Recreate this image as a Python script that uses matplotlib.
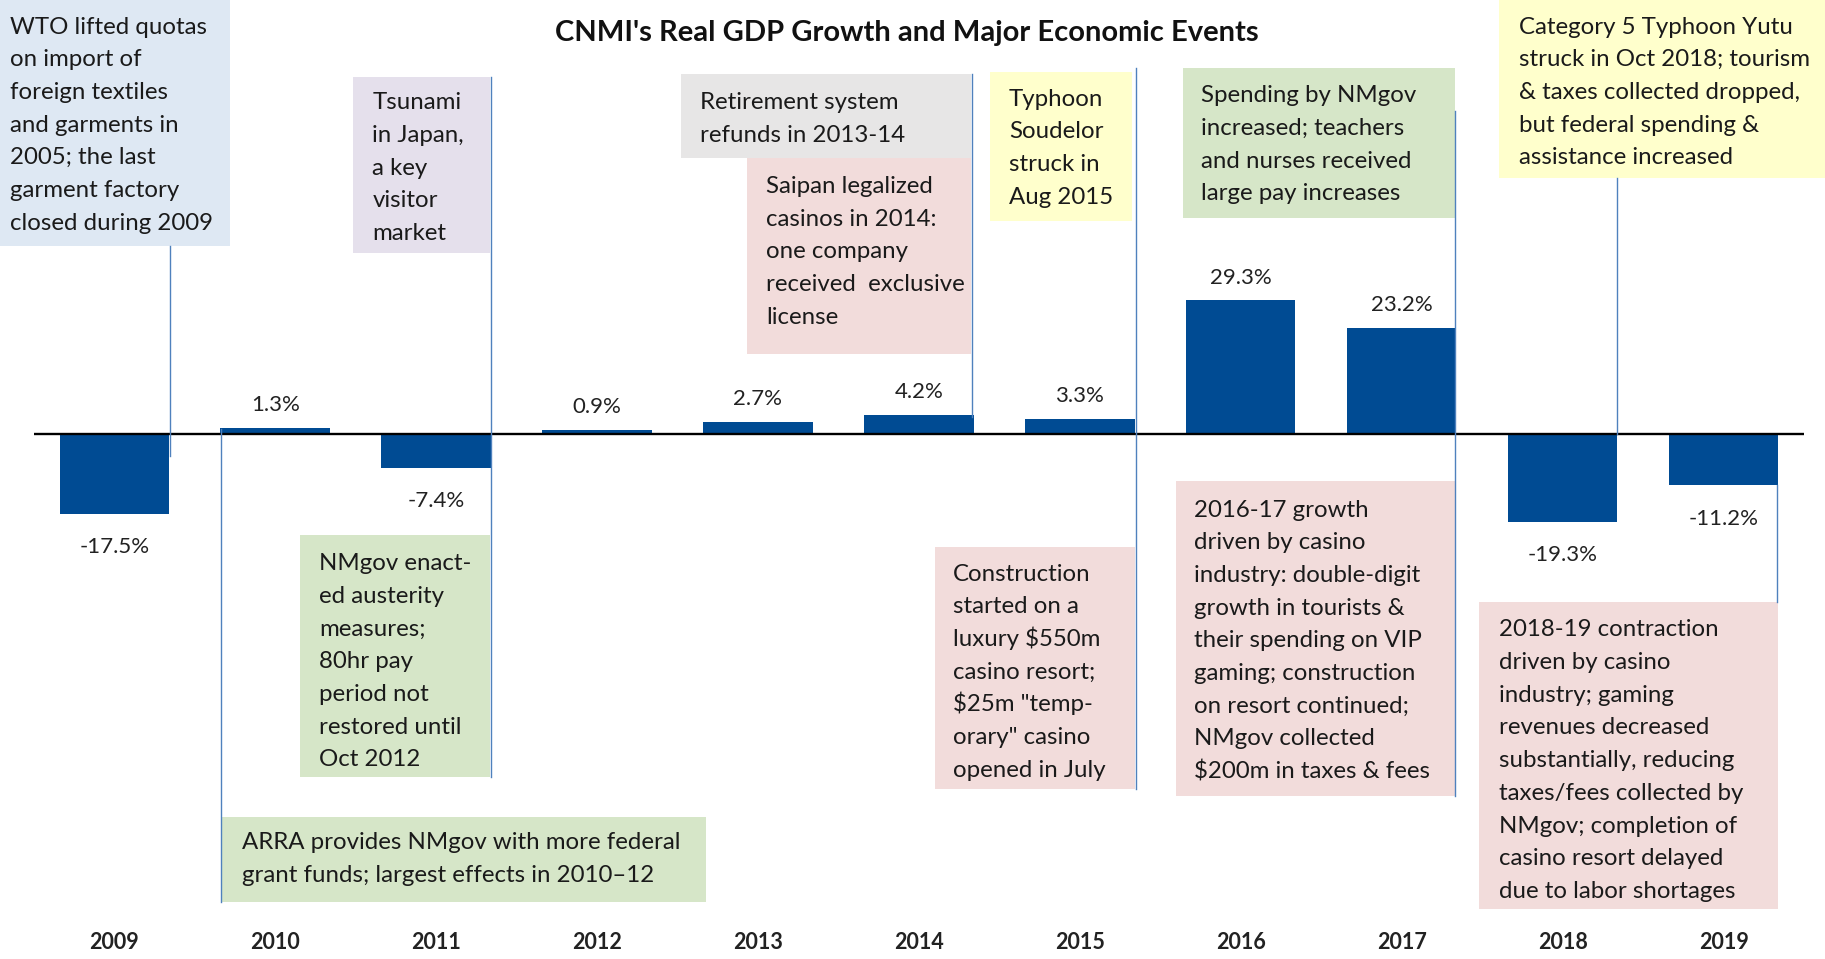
import matplotlib
matplotlib.use("Agg")
import matplotlib.pyplot as plt
from matplotlib.patches import Rectangle
from matplotlib.lines import Line2D

# ---- data ----
years = ["2009", "2010", "2011", "2012", "2013", "2014", "2015", "2016", "2017", "2018", "2019"]
growth = [-17.5, 1.3, -7.4, 0.9, 2.7, 4.2, 3.3, 29.3, 23.2, -19.3, -11.2]

title = "CNMI's Real GDP Growth and Major Economic Events"

notes = [
    "WTO lifted quotas\non import of\nforeign textiles\nand garments in\n2005; the last\ngarment factory\nclosed during 2009",
    "Tsunami\nin Japan,\na key\nvisitor\nmarket",
    "Retirement system\nrefunds in 2013-14",
    "Saipan legalized\ncasinos in 2014:\none company\nreceived  exclusive\nlicense",
    "Typhoon\nSoudelor\nstruck in\nAug 2015",
    "Spending by NMgov\nincreased; teachers\nand nurses received\nlarge pay increases",
    "Category 5 Typhoon Yutu\nstruck in Oct 2018; tourism\n& taxes collected dropped,\nbut federal spending &\nassistance increased",
    "NMgov enact-\ned austerity\nmeasures;\n80hr pay\nperiod not\nrestored until\nOct 2012",
    "ARRA provides NMgov with more federal\ngrant funds; largest effects in 2010\u201312",
    "Construction\nstarted on a\nluxury $550m\ncasino resort;\n$25m \"temp-\norary\" casino\nopened in July",
    "2016-17 growth\ndriven by casino\nindustry: double-digit\ngrowth in tourists &\ntheir spending on VIP\ngaming; construction\non resort continued;\nNMgov collected\n$200m in taxes & fees",
    "2018-19 contraction\ndriven by casino\nindustry; gaming\nrevenues decreased\nsubstantially, reducing\ntaxes/fees collected by\nNMgov; completion of\ncasino resort delayed\ndue to labor shortages",
]

# ---- layout (reference pixels on a 1568x824 grid) ----
W, H = 1568.0, 824.0
# box: left, top, right, bottom, text x, first line centre, colour
boxes = [
    (0, 0, 198, 211, 9, 22, "#DEE8F3"),
    (303, 66, 421, 217, 320, 87, "#E5E0EC"),
    (585, 64, 834, 136, 601, 87, "#E7E6E6"),
    (642, 136, 834, 304, 658, 159, "#F2DCDB"),
    (851, 62, 973, 190, 867, 84, "#FFFFCC"),
    (1016, 58, 1250, 187, 1032, 81, "#D6E6C8"),
    (1288, 0, 1568, 153, 1305, 22, "#FFFFCC"),
    (258, 460, 421, 668, 274, 483, "#D6E6C8"),
    (190, 702, 607, 775, 208, 723, "#D6E6C8"),
    (803, 470, 975, 678, 819, 492, "#F2DCDB"),
    (1010, 413, 1250, 684, 1026, 437, "#F2DCDB"),
    (1271, 517, 1528, 781, 1288, 540, "#F2DCDB"),
]
line_step = 28.1
leaders = [(146, 211, 392), (422, 66, 668), (835, 64, 358), (976, 58, 678),
           (1250, 95, 684), (1389, 153, 373), (190, 369, 775), (1527, 417, 517)]

FONT = "Lato"
bar_color = "#004B93"
lead_color = "#4F81BD"

def fx(x):
    return x / W

def fy(y):
    return 1 - y / H

fig = plt.figure(figsize=(18.25, 9.59), dpi=100)
ax = fig.add_axes([fx(29), 0, fx(1550) - fx(29), 1])
px_per_pct = 3.92
zero_y = 373
ax.set_ylim(-(H - zero_y) / px_per_pct, zero_y / px_per_pct)
ax.set_xlim(-0.5, len(years) - 0.5)
ax.axis("off")

xs = range(len(years))
ax.bar(xs, growth, width=0.68, color=bar_color, zorder=2)
ax.axhline(0, color="black", lw=1.7, zorder=3)

for x, v in zip(xs, growth):
    off = 16.5 if v > 0 else -24
    ax.annotate(f"{v:.1f}%", (x, v), xytext=(0, off), textcoords="offset points",
                ha="center", va="center", fontsize=16, family=FONT, color="#222222")

for x, yr in zip(xs, years):
    ax.text(x, -(810 - zero_y) / px_per_pct, yr, ha="center", va="center",
            fontsize=15.5, fontweight="bold", family=FONT, color="#222222")

fig.text(fx(779), fy(28), title, ha="center", va="center", fontsize=21,
         fontweight="bold", family=FONT, color="#111111")

# annotation boxes
for txt, (l, t, r, b, tx, ty, col) in zip(notes, boxes):
    fig.patches.append(Rectangle((fx(l), fy(b)), fx(r) - fx(l), fy(t) - fy(b),
                                 transform=fig.transFigure, facecolor=col,
                                 edgecolor="none", zorder=1))
    for i, ln in enumerate(txt.split("\n")):
        fig.text(fx(tx), fy(ty + i * line_step + 6.8), ln, ha="left", va="baseline",
                 fontsize=17.3, family=FONT, color="#1a1a1a", zorder=5)

for x, y0, y1 in leaders:
    fig.lines.append(Line2D([fx(x), fx(x)], [fy(y0), fy(y1)], transform=fig.transFigure,
                            color=lead_color, lw=1.0, zorder=4))

fig.savefig("out.png", dpi=100)
